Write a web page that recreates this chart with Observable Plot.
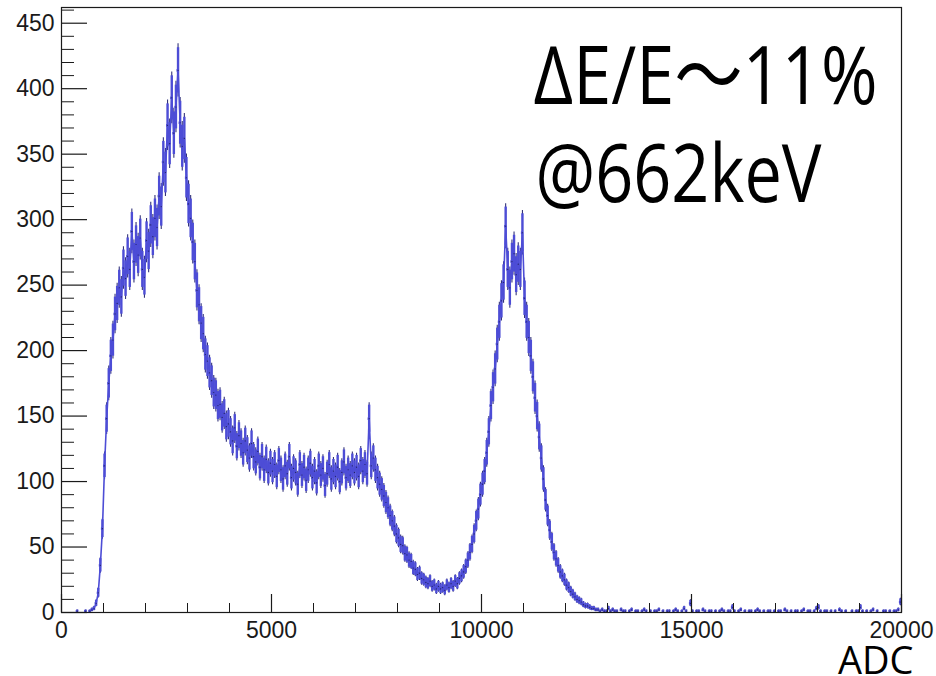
<!DOCTYPE html>
<html><head><meta charset="utf-8">
<script src="https://cdn.jsdelivr.net/npm/d3@7"></script>
<script src="https://cdn.jsdelivr.net/npm/@observablehq/plot@0.6"></script>
<style>body{margin:0;background:#fff}</style>
</head><body><div id="chart"></div>
<script>
// Histogram: bin width in ADC channels, counts per bin (0 .. 20000)
const binWidth = 50;
const counts = [
  0,0,0,0,0,0,0,1,0,0,0,1,0,1,2,3,7,15,36,64,
  112,148,175,196,208,228,236,248,241,263,255,272,262,291,268,281,273,286,262,256,
  284,276,296,287,301,294,318,310,344,336,372,358,393,366,386,414,374,356,362,332,
  312,301,283,268,246,235,221,213,197,192,183,177,168,166,158,159,149,152,142,144,
  138,131,141,127,135,129,122,131,124,118,129,119,115,123,111,119,109,117,107,114,
  108,113,104,116,109,102,112,106,119,103,110,107,98,113,105,111,101,109,114,103,
  108,99,112,105,110,97,106,113,102,108,104,111,100,107,115,103,109,105,112,107,
  111,104,116,108,113,106,148,112,118,109,103,98,94,89,84,80,74,70,66,60,
  57,52,51,45,44,40,39,34,33,29,30,26,25,23,22,24,20,21,18,20,
  18,19,17,21,19,22,20,24,22,26,28,31,35,40,46,52,60,70,79,90,
  98,108,122,138,158,172,186,205,222,238,252,295,262,248,268,274,258,266,262,290,
  240,222,210,196,180,164,150,134,118,102,86,74,63,54,46,41,36,31,28,25,
  21,19,16,14,12,10,9,8,6,5,5,4,3,3,2,2,1,2,1,1,
  3,1,2,1,1,0,2,1,1,0,1,2,0,1,1,0,1,2,1,0,
  1,0,1,1,2,0,1,0,1,1,0,1,2,1,0,1,3,1,0,7,
  1,0,1,1,0,2,1,0,1,1,0,1,0,1,2,1,0,1,1,4,
  1,0,1,2,0,1,0,1,1,0,1,2,1,0,1,0,1,1,0,1,
  0,1,1,0,2,1,0,1,0,1,1,0,1,2,0,1,1,0,1,3,
  4,1,0,1,1,0,1,0,1,0,2,1,0,1,0,0,1,0,1,1,
  4,1,0,1,0,1,2,0,1,0,0,1,1,0,1,0,1,1,2,8
];
const xDomain = [0, 20000];
const yDomain = [0, 462];
const xMajorTicks = [0, 5000, 10000, 15000, 20000];
const xMinorTicks = [1000,2000,3000,4000,6000,7000,8000,9000,11000,12000,13000,14000,16000,17000,18000,19000];
const yMajorTicks = [0, 50, 100, 150, 200, 250, 300, 350, 400, 450];
const yMinorTicks = d3.range(10, 461, 10).filter(v => v % 50 !== 0);
const annotationLines = ["ΔE/E～11%", "@662keV"];
const xLabel = "ADC";

const allBins = counts.map((c, i) => {
  const e = Math.sqrt(c);
  return {x0: i * binWidth, x1: (i + 1) * binWidth, xc: (i + 0.5) * binWidth,
    c, lo: Math.max(0, c - e), hi: c + e, lo2: Math.max(0, c - 0.85 * e), hi2: c + 0.85 * e};
});
const bins = allBins.filter(d => d.c > 0);
const mainRegion = allBins.filter(d => d.xc > 700 && d.xc < 12800);

const W = 936, H = 676, mL = 61, mR = 35, mT = 7, mB = 64;
const fw = W - mL - mR, fh = H - mT - mB;
const blue = "#4d4dd6";
const navy = "#33337a";

const chart = Plot.plot({
  width: W, height: H,
  marginLeft: mL, marginRight: mR, marginTop: mT, marginBottom: mB,
  x: {domain: xDomain},
  y: {domain: yDomain},
  style: {fontFamily: "'Liberation Sans', Arial, sans-serif", fontSize: "23px", color: "#1a1a1a", background: "#fff"},
  marks: [
    Plot.ruleX(bins, {x: "xc", y1: "lo", y2: "hi", stroke: navy, strokeWidth: 1.1}),
    Plot.ruleX(bins, {x: "xc", y1: "lo2", y2: "hi2", stroke: blue, strokeWidth: 2.4}),
    Plot.ruleY(bins, {y: "c", x1: "x0", x2: "x1", stroke: blue, strokeWidth: 2.5}),
    Plot.line(mainRegion, {x: "xc", y: "c", stroke: blue, strokeWidth: 1.6}),
    Plot.dot(bins, {x: "xc", y: "c", r: 0.6, fill: "#22225e", stroke: null}),
    Plot.tickY(yMajorTicks, {y: d => d, insetRight: fw - 26, stroke: "#1a1a1a", strokeWidth: 1.2}),
    Plot.tickY(yMinorTicks, {y: d => d, insetRight: fw - 13, stroke: "#1a1a1a", strokeWidth: 1}),
    Plot.tickX(xMajorTicks, {x: d => d, insetTop: fh - 18, stroke: "#1a1a1a", strokeWidth: 1.2}),
    Plot.tickX(xMinorTicks, {x: d => d, insetTop: fh - 9, stroke: "#1a1a1a", strokeWidth: 1}),
    Plot.frame({stroke: "#1a1a1a", strokeWidth: 1.2}),
    Plot.axisX({ticks: xMajorTicks, tickSize: 0, tickPadding: 9, tickFormat: d => String(d), label: null}),
    Plot.axisY({ticks: yMajorTicks, tickSize: 0, tickPadding: 7, tickFormat: d => String(d), label: null}),
    Plot.text([annotationLines[0]], {frameAnchor: "top-left", text: d => d, dx: 472, dy: 40, lineAnchor: "top", textAnchor: "start",
      fontSize: 80, fontFamily: "'Open Sans', 'Noto Sans', 'Noto Sans CJK JP', sans-serif", fill: "#000"}),
    Plot.text([annotationLines[1]], {frameAnchor: "top-left", text: d => d, dx: 474, dy: 138, lineAnchor: "top", textAnchor: "start",
      fontSize: 80, fontFamily: "'Open Sans', 'Noto Sans', 'Noto Sans CJK JP', sans-serif", fill: "#000"}),
    Plot.text([xLabel], {frameAnchor: "bottom-right", text: d => d, dx: 12, dy: 35, lineAnchor: "top", textAnchor: "end",
      fontSize: 38, fontFamily: "'Open Sans', 'Noto Sans', sans-serif", fill: "#000"})
  ]
});
document.getElementById("chart").appendChild(chart);

// fit the large annotation texts to the widths seen in the reference
const fits = {[annotationLines[0]]: 344, [annotationLines[1]]: 286};
d3.select(chart).selectAll("text").each(function() {
  const t = this.textContent;
  if (fits[t]) { this.setAttribute("textLength", fits[t]); this.setAttribute("lengthAdjust", "spacingAndGlyphs"); }
});
</script>
</body></html>
